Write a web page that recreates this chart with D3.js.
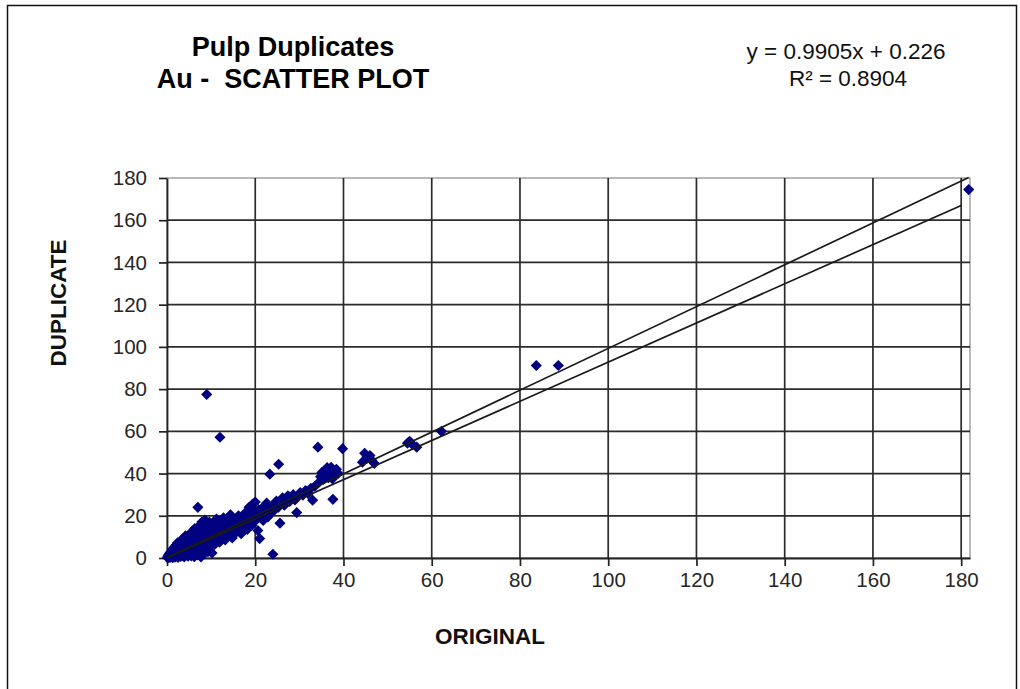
<!DOCTYPE html>
<html>
<head>
<meta charset="utf-8">
<script src="https://cdn.jsdelivr.net/npm/d3@7"></script>
<style>
  html, body { margin: 0; padding: 0; background: #fff; }
  svg { display: block; }
  text { font-family: "Liberation Sans", Arial, sans-serif; }
</style>
</head>
<body>
<svg id="chart" width="1020" height="689"></svg>
<script>
// Au pulp duplicates: original assay vs duplicate assay
const original = [
  0.1,0.2,0.3,0.4,0.5,0.6,0.7,0.8,0.9,1.0,1.1,1.2,1.3,1.4,1.5,1.6,1.7,1.8,1.9,2.0,
  2.1,2.2,2.3,2.4,2.5,2.6,2.7,2.8,2.9,3.0,3.1,3.2,3.3,3.4,3.5,3.6,3.7,3.8,3.9,4.0,
  4.1,4.2,4.3,4.4,4.5,4.6,4.7,4.8,4.9,
  5.0,5.1,5.2,5.3,5.4,5.5,5.6,5.7,5.8,5.9,6.0,6.1,6.2,6.3,6.4,6.5,6.6,6.7,6.8,6.9,
  7.0,7.0,7.1,7.2,7.3,7.4,7.5,7.6,7.7,7.8,7.9,8.0,8.1,8.2,8.3,8.4,8.5,8.6,8.7,8.8,
  8.9,9.0,9.0,9.1,9.2,9.3,9.4,9.5,9.6,9.7,9.8,9.9,
  10.0,10.2,10.3,10.5,10.6,10.8,11.0,11.2,11.3,11.5,11.7,11.9,12.0,12.0,12.2,12.4,12.6,12.8,
  13.0,13.2,13.4,13.6,13.8,14.0,14.2,14.4,14.6,14.8,15.0,15.2,15.4,15.6,15.8,16.0,16.2,16.4,
  16.6,16.8,17.0,17.2,17.4,17.6,17.8,18.0,18.2,18.4,18.6,18.8,19.0,19.2,19.4,19.6,19.8,20.0,20.0,
  20.3,20.6,20.8,21.0,21.2,21.5,21.8,22.0,22.3,22.6,22.9,23.2,23.3,23.6,24.0,24.0,24.4,24.8,
  25.2,25.3,25.6,25.8,26.2,26.6,27.0,27.4,27.8,28.2,28.6,29.0,29.4,29.8,30.2,30.8,31.4,32.0,32.6,
  33.0,33.5,34.2,34.5,34.8,35.1,35.4,35.7,36.0,36.3,36.6,36.9,37.2,37.5,37.6,37.8,38.1,38.4,38.8,39.8,
  44.3,44.8,45.3,46.0,46.4,47.0,54.5,55.0,55.6,56.6,62.2,83.7,88.7,181.7
];
const duplicate = [
  0.2,0.8,0.1,1.5,0.5,2.2,0.3,1.1,3.0,0.6,1.8,4.0,0.2,2.6,1.2,5.0,3.3,0.4,2.0,6.0,
  1.0,3.8,2.5,7.2,0.3,4.5,1.6,5.6,3.0,8.0,0.8,4.2,2.2,6.5,1.2,9.0,3.6,5.2,0.5,7.5,
  2.8,10.5,4.6,1.5,6.0,3.4,8.6,0.9,5.5,
  11.0,2.4,7.0,4.2,9.5,1.0,6.2,12.5,3.6,8.0,5.0,10.5,0.6,14.0,7.0,2.5,9.0,4.4,12.0,6.0,
  24.0,1.5,8.2,15.0,3.5,10.0,5.6,13.0,0.5,7.4,17.0,9.5,4.0,11.5,6.5,14.5,2.2,18.0,8.6,12.5,
  5.2,77.5,10.0,15.8,7.2,3.0,13.0,9.2,17.0,5.8,11.4,14.4,
  8.0,2.4,12.6,16.0,10.0,6.4,13.8,18.5,9.2,11.8,15.5,7.5,57.2,13.0,17.0,10.5,14.5,19.0,
  12.0,8.6,16.0,13.5,18.0,11.0,15.0,20.5,13.2,9.5,16.5,14.0,18.5,12.0,17.2,15.0,20.0,13.5,
  17.8,11.5,16.2,19.5,14.5,18.0,21.5,16.8,13.5,19.0,24.0,17.4,21.0,15.5,25.5,19.2,22.5,17.5,26.5,
  20.5,13.0,23.0,9.2,19.5,22.0,17.8,24.5,21.0,26.0,19.5,23.5,39.7,21.5,1.8,25.0,22.8,27.0,
  24.0,44.4,16.5,26.5,28.5,25.0,27.5,29.5,26.8,28.5,30.0,27.5,21.5,29.5,31.0,29.8,32.0,30.5,33.0,
  27.4,34.0,52.5,36.0,38.5,40.5,37.2,41.5,39.0,42.8,38.0,40.5,43.0,37.5,27.8,41.5,39.5,42.0,40.0,51.8,
  45.4,49.6,47.8,48.5,46.3,44.8,54.4,55.3,53.8,52.5,60.0,91.2,91.2,174.5
];

// Fitted trend (from the equation shown) and the lower reference line
const trendSlope = 0.9905;
const trendIntercept = 0.226;
const rSquared = 0.8904;
const lowerLine = [[0, 0], [180, 167]];

const xTicks = [0, 20, 40, 60, 80, 100, 120, 140, 160, 180];
const yTicks = [0, 20, 40, 60, 80, 100, 120, 140, 160, 180];

const titleLines = ["Pulp Duplicates", "Au -\u00a0 SCATTER PLOT"];
const xTitle = "ORIGINAL";
const yTitle = "DUPLICATE";

const points = original.map((x, i) => ({ x, y: duplicate[i] }));

const svg = d3.select("#chart");
svg.append("rect").attr("width", 1020).attr("height", 689).attr("fill", "#fff");

// outer frame
svg.append("rect")
  .attr("x", 7.5).attr("y", 5.5).attr("width", 1009).attr("height", 700)
  .attr("fill", "none").attr("stroke", "#111").attr("stroke-width", 1.5);

const x = d3.scaleLinear().domain([0, 182]).range([167, 970]);
const y = d3.scaleLinear().domain([0, 180]).range([558, 178]);

// plot frame (top/right)
svg.append("rect")
  .attr("x", x(0)).attr("y", y(180)).attr("width", x(182) - x(0)).attr("height", y(0) - y(180))
  .attr("fill", "none").attr("stroke", "#8a8a8a").attr("stroke-width", 1.2);

// gridlines
const grid = svg.append("g").attr("stroke", "#2b2b2b").attr("stroke-width", 1.7);
grid.selectAll("line.h").data(yTicks.filter(t => t > 0 && t < 180)).join("line")
  .attr("x1", x(0)).attr("x2", x(182)).attr("y1", d => y(d)).attr("y2", d => y(d));
grid.selectAll("line.v").data(xTicks.filter(t => t > 0)).join("line")
  .attr("x1", d => x(d)).attr("x2", d => x(d)).attr("y1", y(0)).attr("y2", y(180));

// axes
const xAxis = d3.axisBottom(x).tickValues(xTicks).tickSize(8).tickPadding(6).tickSizeOuter(0);
const yAxis = d3.axisLeft(y).tickValues(yTicks).tickSize(8).tickPadding(12).tickSizeOuter(0);

const gx = svg.append("g").attr("transform", `translate(0,${y(0)})`).call(xAxis);
const gy = svg.append("g").attr("transform", `translate(${x(0)},0)`).call(yAxis);
[gx, gy].forEach(g => {
  g.select(".domain").attr("stroke", "#222").attr("stroke-width", 1.8);
  g.selectAll(".tick line").attr("stroke", "#222").attr("stroke-width", 1.7);
  g.selectAll(".tick text")
    .attr("fill", "#262626")
    .style("font-family", '"Liberation Sans", Arial, sans-serif')
    .style("font-size", "20.5px");
});

// markers
const diamond = d3.symbol().type(d3.symbolSquare).size(62);
svg.append("g").selectAll("path").data(points).join("path")
  .attr("d", diamond)
  .attr("transform", d => `translate(${x(d.x)},${y(d.y)}) rotate(45)`)
  .attr("fill", "#000080");

// lines drawn over the markers
const line = d3.line().x(d => x(d[0])).y(d => y(d[1]));
const xMax = d3.max(original);
const trend = [[0, trendIntercept], [xMax, trendSlope * xMax + trendIntercept]];
svg.append("path").attr("d", line(trend))
  .attr("fill", "none").attr("stroke", "#1a1a1a").attr("stroke-width", 1.7);
svg.append("path").attr("d", line(lowerLine))
  .attr("fill", "none").attr("stroke", "#1a1a1a").attr("stroke-width", 1.7);

// titles
svg.append("text").attr("x", 293).attr("y", 56).attr("text-anchor", "middle")
  .style("font-size", "27px").style("font-weight", "bold").text(titleLines[0]);
svg.append("text").attr("x", 293).attr("y", 88).attr("text-anchor", "middle")
  .style("font-size", "27px").style("font-weight", "bold").text(titleLines[1]);

// regression equation
svg.append("text").attr("x", 846).attr("y", 59).attr("text-anchor", "middle")
  .style("font-size", "22.5px").attr("fill", "#111")
  .text(`y = ${trendSlope}x + ${trendIntercept}`);
svg.append("text").attr("x", 848).attr("y", 86).attr("text-anchor", "middle")
  .style("font-size", "22.5px").attr("fill", "#111")
  .text(`R² = ${rSquared}`);

// axis titles
svg.append("text").attr("x", 490).attr("y", 644).attr("text-anchor", "middle")
  .style("font-size", "22.5px").style("font-weight", "bold").attr("fill", "#111").text(xTitle);
svg.append("text").attr("transform", "translate(66,303) rotate(-90)").attr("text-anchor", "middle")
  .style("font-size", "22.5px").style("font-weight", "bold").attr("fill", "#111").text(yTitle);
</script>
</body>
</html>
